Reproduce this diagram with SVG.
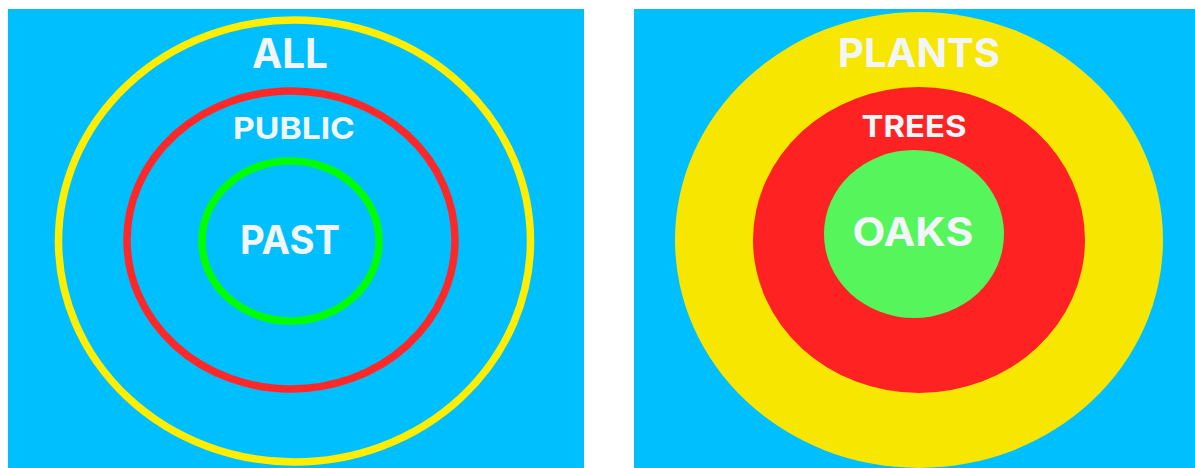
<svg xmlns="http://www.w3.org/2000/svg" width="1195" height="468" viewBox="0 0 1195 468">
<style>
.bg{fill:#00BFFF}
.ring{fill:none;stroke-width:7.5}
.lbl{font-family:Inter,"Open Sans","Liberation Sans",sans-serif;font-weight:bold;fill:#F2F6FB;text-anchor:middle}
</style>
<rect x="0" y="0" width="1195" height="468" fill="#FFFFFF"/>
<g id="left-panel">
<rect class="bg" x="8" y="9" width="576" height="459"/>
<g id="all"><ellipse class="ring" cx="294.5" cy="241" rx="236" ry="221" stroke="#FFEE00"/><text class="lbl" x="290" y="68" font-size="41" textLength="76" lengthAdjust="spacingAndGlyphs">ALL</text></g>
<g id="public"><ellipse class="ring" cx="291" cy="240" rx="164" ry="149" stroke="#FF2828"/><text class="lbl" x="294" y="139" font-size="30" textLength="122" lengthAdjust="spacingAndGlyphs">PUBLIC</text></g>
<g id="past"><ellipse class="ring" cx="290.5" cy="241" rx="88.5" ry="80" stroke="#00FF00"/><text class="lbl" x="290" y="254" font-size="40" textLength="100" lengthAdjust="spacingAndGlyphs">PAST</text></g>
</g>
<g id="right-panel">
<rect class="bg" x="634" y="9" width="561" height="459"/>
<g id="plants"><ellipse cx="919" cy="240" rx="244" ry="228" fill="#F7E700"/><text class="lbl" x="919" y="67" font-size="40" textLength="162" lengthAdjust="spacingAndGlyphs">PLANTS</text></g>
<g id="trees"><ellipse cx="919" cy="240" rx="166" ry="153" fill="#FF2222"/><text class="lbl" x="914" y="137" font-size="30" textLength="105" lengthAdjust="spacingAndGlyphs">TREES</text></g>
<g id="oaks"><ellipse cx="914" cy="234" rx="90" ry="84" fill="#55F55B"/><text class="lbl" x="913" y="246" font-size="39" textLength="121" lengthAdjust="spacingAndGlyphs">OAKS</text></g>
</g>
<g id="connectors"/>
</svg>
